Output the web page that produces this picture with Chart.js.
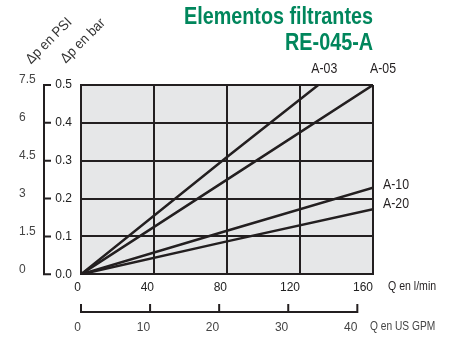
<!DOCTYPE html>
<html>
<head>
    <title>Elementos filtrantes RE-045-A</title>
    <script src="https://cdn.jsdelivr.net/npm/chart.js"></script>
    <style>
        body { margin: 0; background: #fff; }
        #wrap { width: 459px; height: 337px; position: relative; }
    </style>
</head>
<body>
    <div id="wrap"><canvas id="myChart"></canvas></div>
    <script>
        // Data (Q in l/min, delta p in bar)
        const seriesNames = ['A-03', 'A-05', 'A-10', 'A-20'];
        const flowA03 = [0, 80, 130];
        const dpA03 = [0, 0.31, 0.5];
        const flowA05 = [0, 80, 160];
        const dpA05 = [0, 0.25, 0.5];
        const flowA10 = [0, 80, 160];
        const dpA10 = [0, 0.115, 0.229];
        const flowA20 = [0, 80, 160];
        const dpA20 = [0, 0.087, 0.172];

        // Axis ticks
        const barTicks = [0, 0.1, 0.2, 0.3, 0.4, 0.5];
        const psiTicks = [0, 1.5, 3, 4.5, 6, 7.5];
        const lminTicks = [0, 40, 80, 120, 160];
        const gpmTicks = [0, 10, 20, 30, 40];
        const LMIN_PER_GPM = 3.785411784;

        const FONT = "'Liberation Sans', Arial, sans-serif";
        const DARK = '#231f20';
        const GREEN = '#00865c';

        const toPoints = (xs, ys) => xs.map((x, i) => ({x: x, y: ys[i]}));
        const allSeries = [
            toPoints(flowA03, dpA03),
            toPoints(flowA05, dpA05),
            toPoints(flowA10, dpA10),
            toPoints(flowA20, dpA20)
        ];

        // label offsets from the end of each line (px)
        const labelOffsets = [[6, -16, 'center'], [10, -16, 'center'], [10, -2, 'left'], [10, -5, 'left']];

        // draw text squeezed horizontally (the original uses a condensed face)
        function narrowText(ctx, text, x, y, sx) {
            ctx.save();
            ctx.translate(x, y);
            ctx.scale(sx, 1);
            ctx.fillText(text, 0, 0);
            ctx.restore();
        }

        const decorations = {
            id: 'decorations',
            beforeDraw(chart) {
                const {ctx, chartArea: a} = chart;
                ctx.save();
                ctx.fillStyle = '#e6e7e8';
                ctx.fillRect(a.left, a.top, a.right - a.left, a.bottom - a.top);
                ctx.restore();
            },
            afterDraw(chart) {
                const {ctx, chartArea: a} = chart;
                const y = chart.scales.y;
                const xg = chart.scales.xg;
                const x = chart.scales.x;
                ctx.save();
                ctx.strokeStyle = DARK;
                ctx.lineWidth = 2;

                // bracket for bar scale
                const bx = 44;
                ctx.beginPath();
                ctx.moveTo(bx, y.getPixelForValue(0.5) - 1);
                ctx.lineTo(bx, y.getPixelForValue(0) + 1);
                barTicks.forEach(v => {
                    const py = y.getPixelForValue(v);
                    ctx.moveTo(bx, py);
                    ctx.lineTo(bx + 7, py);
                });
                ctx.stroke();

                // GPM axis line with upward ticks
                const gy = 312;
                ctx.beginPath();
                ctx.moveTo(xg.getPixelForValue(0), gy);
                ctx.lineTo(xg.getPixelForValue(40), gy);
                gpmTicks.forEach(v => {
                    const px = xg.getPixelForValue(v);
                    ctx.moveTo(px, gy + 1);
                    ctx.lineTo(px, gy - 8);
                });
                ctx.stroke();

                // title
                ctx.fillStyle = GREEN;
                ctx.font = 'bold 23px ' + FONT;
                ctx.textAlign = 'right';
                ctx.textBaseline = 'alphabetic';
                narrowText(ctx, 'Elementos filtrantes', a.right, 24, 0.86);
                narrowText(ctx, 'RE-045-A', a.right, 50, 0.86);

                // series labels
                ctx.fillStyle = DARK;
                ctx.font = '14px ' + FONT;
                ctx.textBaseline = 'middle';
                allSeries.forEach((pts, i) => {
                    const last = pts[pts.length - 1];
                    const px = x.getPixelForValue(last.x);
                    const py = y.getPixelForValue(last.y);
                    const [dx, dy, al] = labelOffsets[i];
                    ctx.textAlign = al;
                    narrowText(ctx, seriesNames[i], px + dx, py + dy, 0.88);
                });

                // axis titles
                ctx.font = '12px ' + FONT;
                ctx.textAlign = 'left';
                ctx.fillStyle = DARK;
                narrowText(ctx, 'Q en l/min', 388, 287, 0.88);
                ctx.fillStyle = '#444';
                narrowText(ctx, 'Q en US GPM', 370, 327, 0.85);

                ctx.font = '14px ' + FONT;
                ctx.textAlign = 'center';
                ctx.fillStyle = '#333';
                [['\u0394p en PSI', 49, 41], ['\u0394p en bar', 83, 41]].forEach(([t, cx, cy]) => {
                    ctx.save();
                    ctx.translate(cx, cy);
                    ctx.rotate(-Math.PI / 4);
                    ctx.scale(0.93, 1);
                    ctx.fillText(t, 0, 0);
                    ctx.restore();
                });
                ctx.restore();
            }
        };

        const ctx = document.getElementById('myChart').getContext('2d');
        new Chart(ctx, {
            type: 'scatter',
            data: {
                datasets: allSeries.map((pts, i) => ({
                    label: seriesNames[i],
                    data: pts,
                    showLine: true,
                    borderColor: DARK,
                    borderWidth: 2.5,
                    pointRadius: 0,
                    fill: false
                }))
            },
            options: {
                responsive: true,
                maintainAspectRatio: false,
                animation: false,
                layout: { padding: { left: 19, right: 86, top: 85, bottom: 3 } },
                scales: {
                    x: {
                        type: 'linear',
                        position: 'bottom',
                        min: 0, max: 160,
                        afterBuildTicks: s => { s.ticks = lminTicks.map(v => ({value: v})); },
                        afterFit: s => { s.height = 22; },
                        grid: { color: DARK, lineWidth: 2, drawTicks: false },
                        border: { color: DARK, width: 2 },
                        ticks: { align: 'end', padding: 6, color: '#222', font: { family: FONT, size: 12 } }
                    },
                    xg: {
                        type: 'linear',
                        position: 'bottom',
                        weight: 1,
                        min: 0, max: 160 / LMIN_PER_GPM,
                        afterBuildTicks: s => { s.ticks = gpmTicks.map(v => ({value: v})); },
                        afterFit: s => { s.height = 37.7; },
                        grid: { display: false },
                        border: { display: false },
                        ticks: { align: 'end', padding: 16, color: '#444', font: { family: FONT, size: 12 } }
                    },
                    y: {
                        type: 'linear',
                        position: 'left',
                        min: 0, max: 0.5,
                        afterBuildTicks: s => { s.ticks = barTicks.map(v => ({value: v})); },
                        afterFit: s => { s.width = 37; },
                        grid: { color: DARK, lineWidth: 2, drawTicks: false },
                        border: { color: DARK, width: 2 },
                        ticks: {
                            padding: 9, color: '#222', font: { family: FONT, size: 12 },
                            callback: v => v.toFixed(1)
                        }
                    },
                    yp: {
                        type: 'linear',
                        position: 'left',
                        weight: 1,
                        min: 0, max: 7.5,
                        afterBuildTicks: s => { s.ticks = psiTicks.map(v => ({value: v})); },
                        afterFit: s => { s.width = 25; },
                        grid: { display: false },
                        border: { display: false },
                        ticks: {
                            crossAlign: 'far', labelOffset: -5, color: '#444',
                            font: { family: FONT, size: 12 },
                            callback: v => String(v)
                        }
                    }
                },
                plugins: {
                    legend: { display: false },
                    tooltip: { enabled: false },
                    title: { display: false }
                }
            },
            plugins: [decorations]
        });
    </script>
</body>
</html>
